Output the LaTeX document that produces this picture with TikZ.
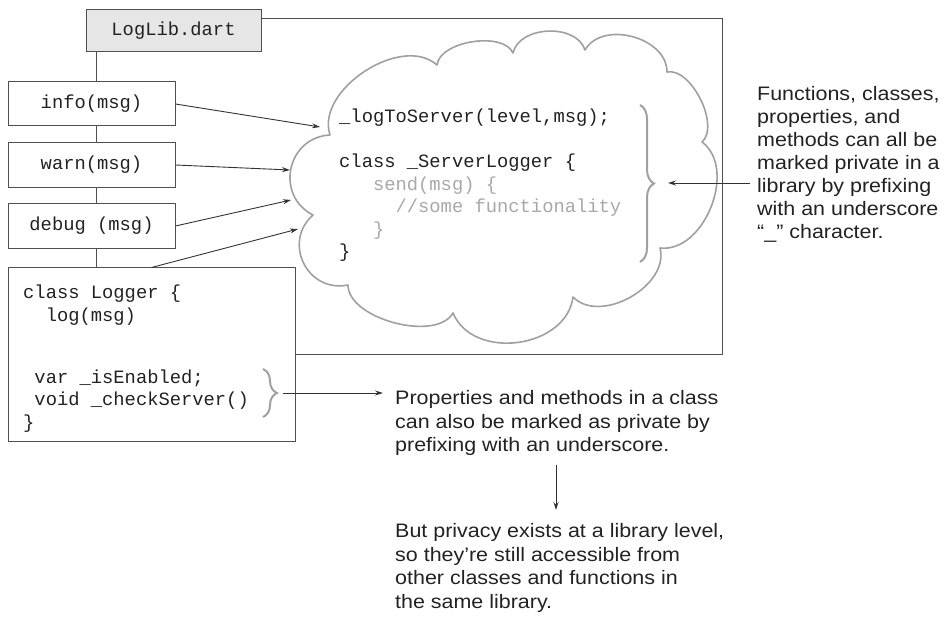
\documentclass[tikz,border=0pt]{standalone}
\usepackage{fontspec}
\setmainfont{Liberation Sans}
\newfontfamily\labelfont[FakeStretch=1.1]{Liberation Sans}
\newfontfamily\codefont{Liberation Mono}
\usetikzlibrary{arrows.meta,decorations.pathreplacing}
\definecolor{boxline}{HTML}{505050}
\definecolor{arrowc}{HTML}{333333}
\definecolor{libfill}{HTML}{E6E6E6}
\definecolor{cloudc}{HTML}{A0A0A0}
\definecolor{codegray}{HTML}{A8A8A8}
\definecolor{textc}{HTML}{222222}
\begin{document}
\begin{tikzpicture}[x=1pt,y=-1pt,
  codefnt/.style={font=\codefont\fontsize{18.8}{22.5}\selectfont},
  codebox/.style={draw=boxline, line width=1pt, rectangle, inner sep=0pt, codefnt, text=textc},
  boxl/.style={draw=boxline, line width=1pt},
  arrow/.style={draw=arrowc, line width=0.9pt, -{Stealth[length=8pt,width=5pt]}},
  cloudline/.style={draw=cloudc, line width=1.6pt, line join=round},
  bracestyle/.style={draw=cloudc, line width=2pt, decorate, decoration={brace, amplitude=14pt}},
  codetext/.style={codefnt, align=left, inner sep=0pt, anchor=north west, text=textc},
  note/.style={font=\labelfont\fontsize{19.5}{23}\selectfont, align=left, inner sep=0pt, anchor=north west, text=textc},
  notewide/.style={note, font=\labelfont\fontsize{19.5}{23.8}\selectfont}
]
\useasboundingbox (0,0) rectangle (945,617);

% library frame
\coordinate (rt) at (722,19);
\coordinate (rb) at (722,355);

% boxes
\node[codebox, fill=libfill, minimum width=175pt, minimum height=42pt] (lib) at (173.5,31) {LogLib.dart};
\node[codebox, minimum width=167pt, minimum height=44pt] (info) at (91.5,104) {info(msg)};
\node[codebox, minimum width=167pt, minimum height=45pt] (warn) at (91.5,165) {warn(msg)};
\node[codebox, minimum width=167pt, minimum height=45pt] (debug) at (91.5,226) {debug (msg)};
\node[codebox, minimum width=287pt, minimum height=173pt] (logger) at (151.5,354.5) {};

\draw[boxl] (lib.north east |- rt) -- (rt) -- (rb) -- (logger.east |- rb);

% spine
\coordinate (vx) at (96,0);
\draw[boxl] (lib.south -| vx) -- (info.north -| vx);
\draw[boxl] (info.south -| vx) -- (warn.north -| vx);
\draw[boxl] (warn.south -| vx) -- (debug.north -| vx);
\draw[boxl] (debug.south -| vx) -- (logger.north -| vx);

% cloud
\draw[cloudline]
  (330,135) to[bend left=75, looseness=0.95] (437,65)
  to[bend left=75, looseness=0.8] (513,53)
  to[bend left=75, looseness=1.0] (585,50)
  to[bend left=75, looseness=1.05] (667,72)
  to[bend left=75, looseness=0.8] (702,142)
  to[bend left=75, looseness=1.0] (660,248)
  to[bend left=75, looseness=1.0] (573,297)
  to[bend left=75, looseness=1.1] (453,313)
  to[bend left=75, looseness=0.8] (348,285)
  to[bend left=75, looseness=1.35] (313,215)
  to[bend left=75, looseness=1.35] (330,135) -- cycle;

% cloud text
\node[codetext] (cloudtext) at (339,109) {\_logToServer(level,msg);\\[22.5pt]
class \_ServerLogger \{\\
\textcolor{codegray}{\hphantom{000}send(msg) \{}\\
\textcolor{codegray}{\hphantom{00000}//some functionality}\\
\textcolor{codegray}{\hphantom{000}\}}\\
\}};

% logger text
\node[codetext] (loggertext) at (23,285) {class Logger \{\\
\hphantom{00}log(msg)\\[39.5pt]
\hphantom{0}var \_isEnabled;\\
\hphantom{0}void \_checkServer()\\
\}};

% braces
\draw[bracestyle] (640,105) -- (640,262) coordinate[midway] (cbr);
\draw[bracestyle] (263,369) -- (263,417) coordinate[midway] (lbr);

% arrows to cloud
\coordinate (ainfo) at (320,127);
\coordinate (awarn) at (290,170);
\coordinate (adebug) at (291,200);
\coordinate (alog) at (298,229);
\draw[arrow] (info.east) -- (ainfo);
\draw[arrow] (warn.east) -- (awarn);
\draw[arrow] (debug.east) -- (adebug);
\draw[arrow] (logger.north) -- (alog);

% notes
\node[note] (n1) at (757,86) {Functions, classes,\\properties, and\\methods can all be\\marked private in a\\library by prefixing\\with an underscore\\“\_” character.};
\node[notewide] (n2) at (395,390) {Properties and methods in a class\\can also be marked as private by\\prefixing with an underscore.};
\node[notewide] (n3) at (395,523) {But privacy exists at a library level,\\so they’re still accessible from\\other classes and functions in\\the same library.};

\coordinate (r1) at (750,183);
\coordinate (r1e) at (668,183);
\draw[arrow] (r1) -- (r1e);
\coordinate (b1) at (283,393);
\coordinate (b1e) at (383,393);
\draw[arrow] (b1) -- (b1e);
\coordinate (d1) at (556,465);
\coordinate (d1e) at (556,510);
\draw[arrow] (d1) -- (d1e);
\end{tikzpicture}
\end{document}
